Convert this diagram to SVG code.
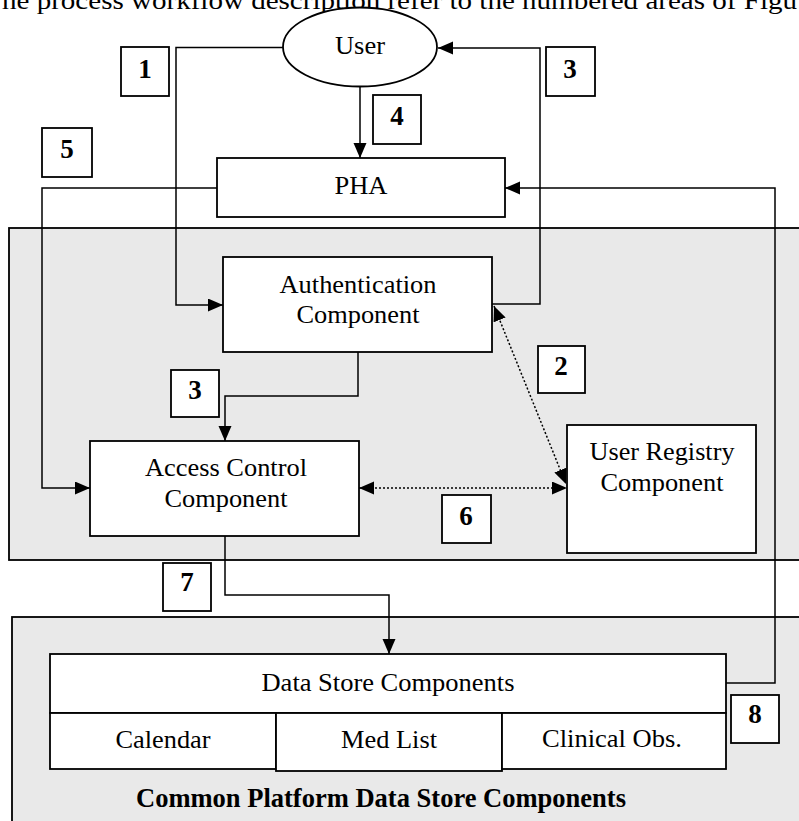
<svg xmlns="http://www.w3.org/2000/svg" width="799" height="821" viewBox="0 0 799 821">
<style>
.panel{fill:#e9e9e9;stroke:#000;stroke-width:1.8}
.box{fill:#fff;stroke:#000;stroke-width:1.8}
.num{fill:#fff;stroke:#000;stroke-width:1.8}
text{font-family:'Liberation Serif',Tinos,'Times New Roman',Times,serif;fill:#000}
.lbl{font-size:26px;text-anchor:middle}
.b{font-weight:bold;font-size:27px}
.ttl{font-size:26px}
.con{fill:none;stroke:#000;stroke-width:1.5}
.dot{fill:none;stroke:#000;stroke-width:1.5;stroke-dasharray:2 2}
</style>
<defs>
<marker id="ah" markerUnits="userSpaceOnUse" markerWidth="16" markerHeight="14" refX="15" refY="6.5" orient="auto-start-reverse">
<path d="M0,0 L15,6.5 L0,13 Z" fill="#000"/>
</marker>
</defs>
<text class="ttl" x="2" y="9" textLength="795" lengthAdjust="spacingAndGlyphs">he process workflow description refer to the numbered areas of Figu</text>
<g id="panel-security"><rect class="panel" x="9" y="228" width="800" height="332"/></g>
<g id="panel-datastore"><rect class="panel" x="12" y="617" width="800" height="220"/>
<text class="lbl b" x="381" y="807" textLength="490" lengthAdjust="spacingAndGlyphs">Common Platform Data Store Components</text></g>
<g id="connectors">
<polyline class="con" points="283,47.5 176,47.5 176,305 223,305" marker-end="url(#ah)"/>
<polyline class="con" points="492,304 540,304 540,48 438,48" marker-end="url(#ah)"/>
<polyline class="con" points="360,86 360,158" marker-end="url(#ah)"/>
<polyline class="con" points="217,188 42,188 42,488 90,488" marker-end="url(#ah)"/>
<polyline class="con" points="726,683 775,683 775,188 505,188" marker-end="url(#ah)"/>
<polyline class="con" points="358,352 358,396 225,396 225,441" marker-end="url(#ah)"/>
<polyline class="con" points="225,536 225,595 389,595 389,654" marker-end="url(#ah)"/>
<line class="dot" x1="494" y1="306" x2="566" y2="484" marker-start="url(#ah)" marker-end="url(#ah)"/>
<line class="dot" x1="359" y1="488" x2="567" y2="488" marker-start="url(#ah)" marker-end="url(#ah)"/>
</g>
<g id="user"><ellipse class="box" cx="360" cy="47" rx="77" ry="39.5"/>
<text class="lbl" x="360" y="54" textLength="50" lengthAdjust="spacingAndGlyphs">User</text></g>
<g id="pha"><rect class="box" x="217" y="158" width="288" height="59"/>
<text class="lbl" x="361" y="194" textLength="53" lengthAdjust="spacingAndGlyphs">PHA</text></g>
<g id="auth"><rect class="box" x="223" y="257" width="269" height="95"/>
<text class="lbl" x="358" y="293" textLength="157" lengthAdjust="spacingAndGlyphs">Authentication</text>
<text class="lbl" x="358" y="323" textLength="123" lengthAdjust="spacingAndGlyphs">Component</text></g>
<g id="access"><rect class="box" x="90" y="441" width="269" height="95"/>
<text class="lbl" x="226" y="476" textLength="162" lengthAdjust="spacingAndGlyphs">Access Control</text>
<text class="lbl" x="226" y="507" textLength="123" lengthAdjust="spacingAndGlyphs">Component</text></g>
<g id="registry"><rect class="box" x="567" y="425" width="189" height="128"/>
<text class="lbl" x="662" y="460" textLength="145" lengthAdjust="spacingAndGlyphs">User Registry</text>
<text class="lbl" x="662" y="491" textLength="123" lengthAdjust="spacingAndGlyphs">Component</text></g>
<g id="datastore"><rect class="box" x="50" y="654" width="676" height="59"/>
<text class="lbl" x="388" y="691" textLength="253" lengthAdjust="spacingAndGlyphs">Data Store Components</text></g>
<g id="calendar"><rect class="box" x="50" y="713" width="226" height="56"/>
<text class="lbl" x="163" y="748" textLength="95" lengthAdjust="spacingAndGlyphs">Calendar</text></g>
<g id="medlist"><rect class="box" x="276" y="713" width="226" height="58"/>
<text class="lbl" x="389" y="748" textLength="96" lengthAdjust="spacingAndGlyphs">Med List</text></g>
<g id="clinical"><rect class="box" x="502" y="713" width="224" height="56"/>
<text class="lbl" x="612" y="747" textLength="140" lengthAdjust="spacingAndGlyphs">Clinical Obs.</text></g>
<g id="n1"><rect class="num" x="121" y="47" width="48" height="49"/><text class="lbl b" x="145" y="78">1</text></g>
<g id="n3a"><rect class="num" x="546" y="47" width="49" height="49"/><text class="lbl b" x="570" y="78">3</text></g>
<g id="n4"><rect class="num" x="373" y="95" width="48" height="49"/><text class="lbl b" x="397" y="125">4</text></g>
<g id="n5"><rect class="num" x="42" y="128" width="50" height="49"/><text class="lbl b" x="67" y="158">5</text></g>
<g id="n2"><rect class="num" x="538" y="346" width="47" height="47"/><text class="lbl b" x="561" y="375">2</text></g>
<g id="n3b"><rect class="num" x="171" y="370" width="48" height="47"/><text class="lbl b" x="195" y="399">3</text></g>
<g id="n6"><rect class="num" x="442" y="495" width="49" height="48"/><text class="lbl b" x="466" y="525">6</text></g>
<g id="n7"><rect class="num" x="163" y="563" width="48" height="48"/><text class="lbl b" x="187" y="591">7</text></g>
<g id="n8"><rect class="num" x="731" y="695" width="48" height="48"/><text class="lbl b" x="755" y="723">8</text></g>
</svg>
